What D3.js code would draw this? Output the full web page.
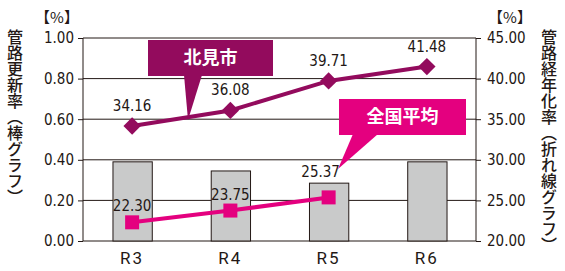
<!DOCTYPE html>
<html>
<head>
<meta charset="utf-8">
<script src="https://cdn.jsdelivr.net/npm/d3@7"></script>
<style>
  body { margin: 0; background: #fff; }
  svg { display: block; }
  .num { font-family: "Liberation Sans Narrow", "DejaVu Sans Condensed", "Arial Narrow", sans-serif; font-stretch: condensed; }
  .jp { font-family: "Noto Sans CJK JP", sans-serif; }
</style>
</head>
<body>
<svg id="svg" width="565" height="271"></svg>
<script>
// data
const years = ["R3", "R4", "R5", "R6"];
const renewalRate = [0.39, 0.345, 0.285, 0.39];       // bars, left axis
const kitamiAging = [34.16, 36.08, 39.71, 41.48];     // line, right axis
const nationalAging = [22.30, 23.75, 25.37];          // line, right axis (R3-R5)
const leftTicks = [0, 0.2, 0.4, 0.6, 0.8, 1.0];
const rightTicks = [20, 25, 30, 35, 40, 45];

const ink = "#231815";
const dark = "#930b5d";
const pink = "#e4007f";

const svg = d3.select("#svg");
const plotL = 83, plotR = 476, plotT = 38, plotB = 241;

const x = d3.scaleBand().domain(years).range([plotL, plotR]).paddingInner(0.6).paddingOuter(0.3);
const yL = d3.scaleLinear().domain([0, 1]).range([plotB, plotT]);
const yR = d3.scaleLinear().domain([20, 45]).range([plotB, plotT]);
const cx = d => x(d) + x.bandwidth() / 2;

// grid
svg.append("g").selectAll("line").data(leftTicks).join("line")
  .attr("x1", plotL).attr("x2", plotR)
  .attr("y1", d => yL(d)).attr("y2", d => yL(d))
  .attr("stroke", ink).attr("stroke-width", 1);

// bars
svg.append("g").selectAll("rect").data(years).join("rect")
  .attr("x", d => x(d) + 0.5)
  .attr("y", (d, i) => yL(renewalRate[i]))
  .attr("width", x.bandwidth())
  .attr("height", (d, i) => yL(0) - yL(renewalRate[i]))
  .attr("fill", "#c9caca").attr("stroke", ink).attr("stroke-width", 1);

// frame sides
svg.append("line").attr("x1", plotL).attr("x2", plotL).attr("y1", plotT).attr("y2", plotB).attr("stroke", ink);
svg.append("line").attr("x1", plotR).attr("x2", plotR).attr("y1", plotT).attr("y2", plotB).attr("stroke", ink);

// axes
const axL = svg.append("g").attr("transform", `translate(${plotL},0)`)
  .call(d3.axisLeft(yL).tickValues(leftTicks).tickSize(5).tickPadding(4).tickFormat(d3.format(".2f")));
const axR = svg.append("g").attr("transform", `translate(${plotR},0)`)
  .call(d3.axisRight(yR).tickValues(rightTicks).tickSize(5).tickPadding(6).tickFormat(d3.format(".2f")));
[axL, axR].forEach(a => {
  a.select(".domain").remove();
  a.selectAll("line").attr("stroke", ink);
  a.selectAll("text").attr("class", "num").attr("font-size", 15).attr("fill", ink);
});

const axX = svg.append("g").attr("transform", `translate(0,${plotB})`)
  .call(d3.axisBottom(x).tickSize(0).tickPadding(9));
axX.select(".domain").remove();
axX.selectAll("text").attr("font-family", "Roboto, sans-serif").attr("font-size", 17)
  .attr("letter-spacing", 2).attr("fill", ink).attr("dy", "0.85em");

// unit labels
svg.append("text").attr("class", "jp").attr("x", 57).attr("y", 23).attr("text-anchor", "middle")
  .attr("font-size", 15).attr("fill", ink).text("【%】");
svg.append("text").attr("class", "jp").attr("x", 510).attr("y", 23).attr("text-anchor", "middle")
  .attr("font-size", 15).attr("fill", ink).text("【%】");

// vertical titles
svg.append("text").attr("class", "jp").attr("x", 15).attr("y", 29)
  .style("writing-mode", "vertical-rl").attr("font-size", 16).attr("font-weight", 500)
  .attr("fill", ink).text("管路更新率（棒グラフ）");
svg.append("text").attr("class", "jp").attr("x", 549).attr("y", 29)
  .style("writing-mode", "vertical-rl").attr("font-size", 16).attr("font-weight", 500)
  .attr("fill", ink).text("管路経年化率（折れ線グラフ）");

// lines
const lineFn = d3.line().x(d => cx(d.k)).y(d => yR(d.v));
const kData = years.map((k, i) => ({ k, v: kitamiAging[i] }));
const nData = nationalAging.map((v, i) => ({ k: years[i], v }));

svg.append("path").datum(nData).attr("d", lineFn).attr("fill", "none")
  .attr("stroke", pink).attr("stroke-width", 4);
svg.append("g").selectAll("rect").data(nData).join("rect")
  .attr("x", d => cx(d.k) - 7).attr("y", d => yR(d.v) - 7)
  .attr("width", 14).attr("height", 14).attr("fill", pink);

svg.append("path").datum(kData).attr("d", lineFn).attr("fill", "none")
  .attr("stroke", dark).attr("stroke-width", 4);
svg.append("g").selectAll("path").data(kData).join("path")
  .attr("d", d3.symbol(d3.symbolSquare, 150))
  .attr("transform", d => `translate(${cx(d.k)},${yR(d.v)}) rotate(45)`)
  .attr("fill", dark);

// value labels
svg.append("g").selectAll("text").data(kData).join("text")
  .attr("class", "num").attr("font-size", 15).attr("fill", ink).attr("text-anchor", "middle")
  .attr("x", d => cx(d.k)).attr("y", d => yR(d.v) - 15).text(d => d.v.toFixed(2));
svg.append("g").selectAll("text").data(nData).join("text")
  .attr("class", "num").attr("font-size", 15).attr("fill", ink).attr("text-anchor", "middle")
  .attr("x", (d, i) => cx(d.k) - (i === 2 ? 8 : 0))
  .attr("y", (d, i) => yR(d.v) - (i === 2 ? 20 : 11)).text(d => d.v.toFixed(2));

// callouts
function callout(x0, y0, w, h, tail, color, label) {
  svg.append("path").attr("d", d3.line()(tail)).attr("fill", color);
  svg.append("rect").attr("x", x0).attr("y", y0).attr("width", w).attr("height", h).attr("fill", color);
  svg.append("text").attr("class", "jp").attr("x", x0 + w / 2).attr("y", y0 + h / 2)
    .attr("dy", "0.36em").attr("text-anchor", "middle").attr("font-size", 18).attr("font-weight", 700)
    .attr("fill", "#fff").text(label);
}
callout(148, 40, 125, 36, [[184, 75], [202, 75], [188, yR(34.9)]], dark, "北見市");
callout(339, 99, 127, 36, [[353, 134], [378, 134], [338, 169]], pink, "全国平均");
</script>
</body>
</html>
